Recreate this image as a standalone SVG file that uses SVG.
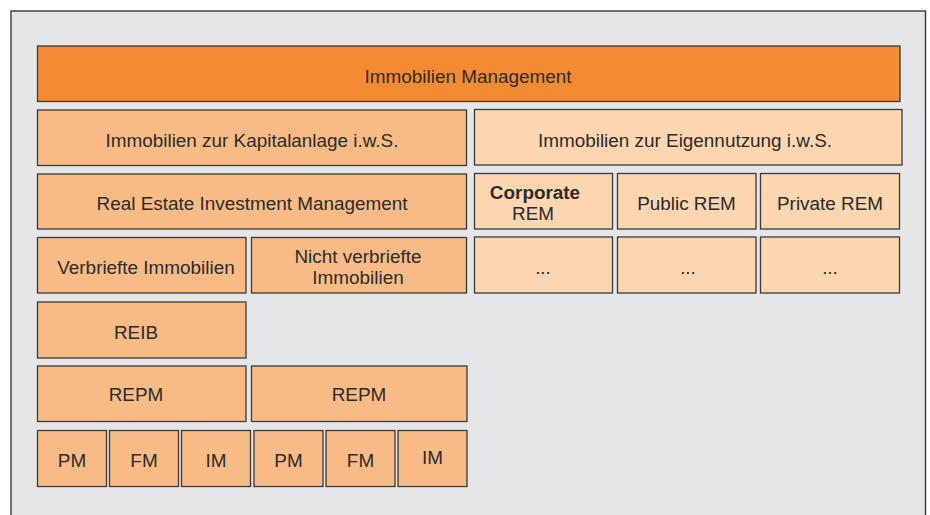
<svg xmlns="http://www.w3.org/2000/svg" width="930" height="515" viewBox="0 0 930 515">
  <style>
    .frame { fill: #e5e6e8; stroke: #3a3a3a; stroke-width: 1.4; }
    .box { stroke: #3a3a3a; stroke-width: 1.3; }
    .top { fill: #f48b33; }
    .inv { fill: #f9bb85; }
    .own { fill: #fdd6b0; }
    text { font-family: "Liberation Sans", Arial, sans-serif; font-size: 18.9px; fill: #2b2b2b; text-anchor: middle; }
    .b { font-weight: bold; }
  </style>

  <!-- outer panel -->
  <rect class="frame" x="11" y="11" width="914.5" height="520"/>

  <g id="immobilien-management">
    <rect class="box top" x="37.5" y="46" width="862.5" height="55.5"/>
    <text x="468" y="83">Immobilien Management</text>
  </g>

  <!-- investment side -->
  <g id="kapitalanlage">
    <rect class="box inv" x="37.5" y="110" width="429" height="55.5"/>
    <text x="252" y="146.5">Immobilien zur Kapitalanlage i.w.S.</text>
  </g>
  <g id="reim">
    <rect class="box inv" x="37.5" y="174" width="429" height="55"/>
    <text x="252" y="210">Real Estate Investment Management</text>
  </g>
  <g id="verbriefte">
    <rect class="box inv" x="37.5" y="237.5" width="208.5" height="55.5"/>
    <text x="146" y="273.5">Verbriefte Immobilien</text>
  </g>
  <g id="nicht-verbriefte">
    <rect class="box inv" x="251.5" y="237.5" width="215" height="55.5"/>
    <text x="358" y="262.5">Nicht verbriefte</text>
    <text x="358" y="283.5">Immobilien</text>
  </g>
  <g id="reib">
    <rect class="box inv" x="37.5" y="302" width="208.5" height="56"/>
    <text x="136" y="339">REIB</text>
  </g>
  <g id="repm-1">
    <rect class="box inv" x="37.5" y="366" width="208.5" height="55.5"/>
    <text x="136" y="400.5">REPM</text>
  </g>
  <g id="repm-2">
    <rect class="box inv" x="251.5" y="366" width="215.5" height="55.5"/>
    <text x="359" y="400.5">REPM</text>
  </g>
  <g id="pm-1">
    <rect class="box inv" x="37.5" y="430.5" width="69" height="56"/>
    <text x="72" y="467">PM</text>
  </g>
  <g id="fm-1">
    <rect class="box inv" x="109.5" y="430.5" width="69" height="56"/>
    <text x="144" y="467">FM</text>
  </g>
  <g id="im-1">
    <rect class="box inv" x="181.5" y="430.5" width="69" height="56"/>
    <text x="216" y="467">IM</text>
  </g>
  <g id="pm-2">
    <rect class="box inv" x="254" y="430.5" width="69" height="56"/>
    <text x="288.5" y="467">PM</text>
  </g>
  <g id="fm-2">
    <rect class="box inv" x="326" y="430.5" width="69" height="56"/>
    <text x="360.5" y="467">FM</text>
  </g>
  <g id="im-2">
    <rect class="box inv" x="398" y="430.5" width="69" height="56"/>
    <text x="432.5" y="464">IM</text>
  </g>

  <!-- owner-occupied side -->
  <g id="eigennutzung">
    <rect class="box own" x="474.5" y="109.5" width="427.5" height="55.5"/>
    <text x="685" y="146.5">Immobilien zur Eigennutzung i.w.S.</text>
  </g>
  <g id="corporate-rem">
    <rect class="box own" x="474.5" y="173.5" width="138" height="55.5"/>
    <text class="b" x="535" y="199">Corporate</text>
    <text x="533" y="219.5">REM</text>
  </g>
  <g id="public-rem">
    <rect class="box own" x="617.5" y="173.5" width="138.5" height="55.5"/>
    <text x="686.5" y="210">Public REM</text>
  </g>
  <g id="private-rem">
    <rect class="box own" x="760.5" y="173.5" width="139" height="55.5"/>
    <text x="830" y="210">Private REM</text>
  </g>
  <g id="corporate-more">
    <rect class="box own" x="474.5" y="237" width="138" height="56"/>
    <text x="543" y="274">...</text>
  </g>
  <g id="public-more">
    <rect class="box own" x="617.5" y="237" width="138.5" height="56"/>
    <text x="688" y="274">...</text>
  </g>
  <g id="private-more">
    <rect class="box own" x="760.5" y="237" width="139" height="56"/>
    <text x="830" y="274">...</text>
  </g>

  <g id="connectors"/>
</svg>
